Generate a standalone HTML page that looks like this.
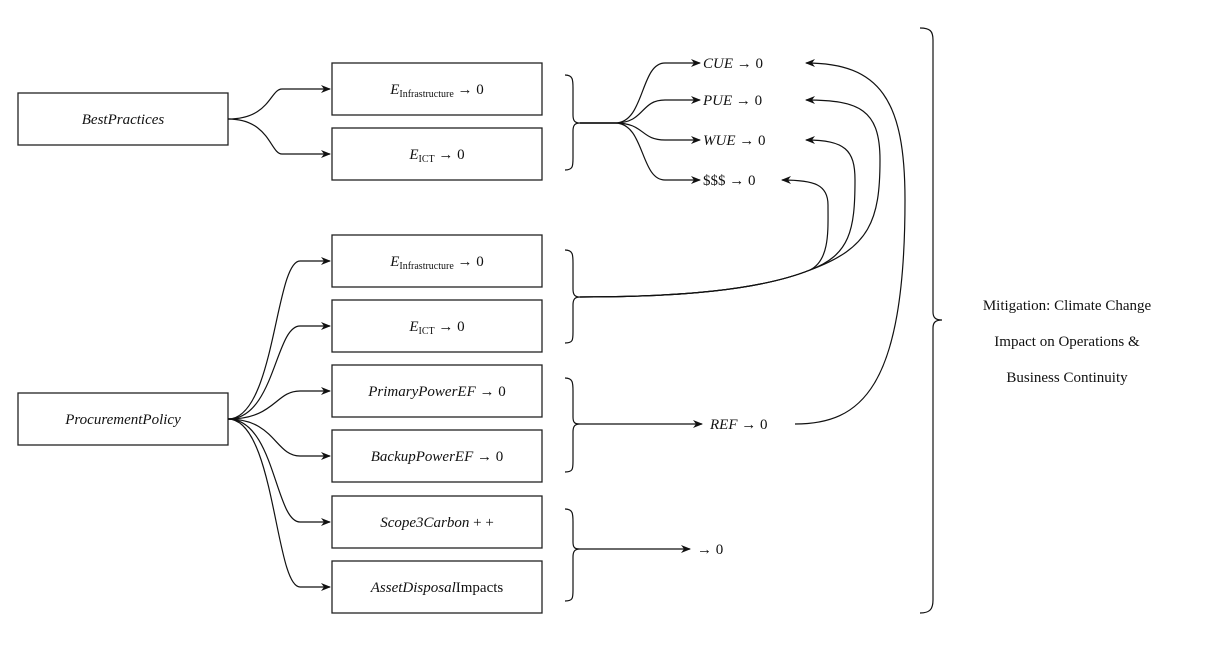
<!DOCTYPE html>
<html><head><meta charset="utf-8"><style>
html,body{margin:0;padding:0;background:#fff;}
svg{display:block;}
text{font-family:"Liberation Serif",serif;font-size:15px;fill:#111;}
.i{font-style:italic;}
</style></head><body>
<svg width="1211" height="668" viewBox="0 0 1211 668" xmlns="http://www.w3.org/2000/svg">
<defs>
<marker id="a" markerWidth="10" markerHeight="8" refX="9" refY="4" orient="auto" markerUnits="userSpaceOnUse">
<path d="M0,0 L10,4 L0,8 L3,4 Z" fill="#111"/>
</marker>
</defs>
<g fill="none" stroke="#222" stroke-width="1.3">
<!-- boxes -->
<rect x="18" y="93" width="210" height="52"/>
<rect x="18" y="393" width="210" height="52"/>
<rect x="332" y="63" width="210" height="52"/>
<rect x="332" y="128" width="210" height="52"/>
<rect x="332" y="235" width="210" height="52"/>
<rect x="332" y="300" width="210" height="52"/>
<rect x="332" y="365" width="210" height="52"/>
<rect x="332" y="430" width="210" height="52"/>
<rect x="332" y="496" width="210" height="52"/>
<rect x="332" y="561" width="210" height="52"/>
</g>
<g fill="none" stroke="#111" stroke-width="1.2">
<!-- BestPractices -->
<path d="M228,119 C270,119 270,89 282,89 C290,89 300,89 330,89" marker-end="url(#a)"/>
<path d="M228,119 C270,119 270,154 282,154 C290,154 300,154 330,154" marker-end="url(#a)"/>
<!-- Procurement -->
<path d="M228,419 C275,419 275,261 300,261 L330,261" marker-end="url(#a)"/>
<path d="M228,419 C275,419 275,326 300,326 L330,326" marker-end="url(#a)"/>
<path d="M228,419 C275,419 275,391 300,391 L330,391" marker-end="url(#a)"/>
<path d="M228,419 C275,419 275,456 300,456 L330,456" marker-end="url(#a)"/>
<path d="M228,419 C275,419 275,522 300,522 L330,522" marker-end="url(#a)"/>
<path d="M228,419 C275,419 275,587 300,587 L330,587" marker-end="url(#a)"/>
<!-- braces -->
<path d="M565,75 C573,75 573,80 573,88 L573,115 C573,121 575,123 580,123 C575,123 573,125 573,131 L573,158 C573,166 573,170 565,170"/>
<path d="M565,250 C573,250 573,255 573,263 L573,289 C573,295 575,297 580,297 C575,297 573,299 573,305 L573,332 C573,340 573,343 565,343"/>
<path d="M565,378 C573,378 573,383 573,391 L573,417 C573,423 575,424 580,424 C575,424 573,426 573,432 L573,461 C573,469 573,472 565,472"/>
<path d="M565,509 C573,509 573,514 573,522 L573,542 C573,548 575,549 580,549 C575,549 573,551 573,557 L573,590 C573,598 573,601 565,601"/>
<path d="M920,28 C930,28 933,31 933,40 L933,312 C933,318 936,320 942,320 C936,320 933,322 933,328 L933,600 C933,609 930,613 920,613"/>
<!-- top fan -->
<path d="M580,123 L615,123 C645,123 640,63 665,63 L700,63" marker-end="url(#a)"/>
<path d="M580,123 L615,123 C645,123 640,100 665,100 L700,100" marker-end="url(#a)"/>
<path d="M580,123 L615,123 C645,123 640,140 665,140 L700,140" marker-end="url(#a)"/>
<path d="M580,123 L615,123 C645,123 640,180 665,180 L700,180" marker-end="url(#a)"/>
<!-- second brace curves back -->
<path d="M580,297 C680,297 760,290 810,270 C830,260 828,230 828,205 C828,185 815,180 782,180" marker-end="url(#a)"/>
<path d="M580,297 C680,297 760,290 810,270 C850,255 855,230 855,180 C855,150 845,140 806,140" marker-end="url(#a)"/>
<path d="M580,297 C680,297 760,290 810,270 C870,248 880,220 880,160 C880,110 860,100 806,100" marker-end="url(#a)"/>
<!-- REF to CUE -->
<path d="M795,424 C860,424 905,390 905,200 C905,100 880,63 806,63" marker-end="url(#a)"/>
<path d="M580,424 L702,424" marker-end="url(#a)"/>
<path d="M580,549 L690,549" marker-end="url(#a)"/>
</g>
<!-- box labels -->
<text x="123" y="124" text-anchor="middle" class="i">BestPractices</text>
<text x="123" y="424" text-anchor="middle" class="i">ProcurementPolicy</text>
<text x="437" y="94" text-anchor="middle"><tspan class="i">E</tspan><tspan font-size="10" dy="3">Infrastructure</tspan><tspan dy="-3"> → 0</tspan></text>
<text x="437" y="159" text-anchor="middle"><tspan class="i">E</tspan><tspan font-size="10" dy="3">ICT</tspan><tspan dy="-3"> → 0</tspan></text>
<text x="437" y="266" text-anchor="middle"><tspan class="i">E</tspan><tspan font-size="10" dy="3">Infrastructure</tspan><tspan dy="-3"> → 0</tspan></text>
<text x="437" y="331" text-anchor="middle"><tspan class="i">E</tspan><tspan font-size="10" dy="3">ICT</tspan><tspan dy="-3"> → 0</tspan></text>
<text x="437" y="396" text-anchor="middle"><tspan class="i">PrimaryPowerEF</tspan> → 0</text>
<text x="437" y="461" text-anchor="middle"><tspan class="i">BackupPowerEF</tspan> → 0</text>
<text x="437" y="527" text-anchor="middle"><tspan class="i">Scope3Carbon</tspan> + +</text>
<text x="437" y="592" text-anchor="middle"><tspan class="i">AssetDisposal</tspan>Impacts</text>
<!-- metrics -->
<text x="703" y="68"><tspan class="i">CUE</tspan> → 0</text>
<text x="703" y="105"><tspan class="i">PUE</tspan> → 0</text>
<text x="703" y="145"><tspan class="i">WUE</tspan> → 0</text>
<text x="703" y="185">$$$ → 0</text>
<text x="710" y="429"><tspan class="i">REF</tspan> → 0</text>
<text x="697" y="554">→ 0</text>
<text x="1067" y="310" text-anchor="middle" font-size="14">Mitigation: Climate Change</text>
<text x="1067" y="346" text-anchor="middle" font-size="14">Impact on Operations &amp;</text>
<text x="1067" y="382" text-anchor="middle" font-size="14">Business Continuity</text>
</svg>
</body></html>
